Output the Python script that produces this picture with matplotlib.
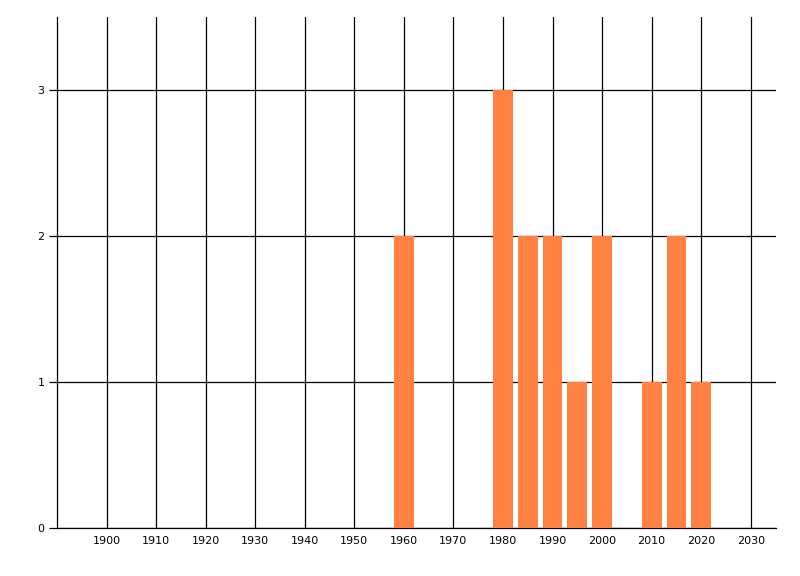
import matplotlib.pyplot as plt

years = [1960, 1980, 1985, 1990, 1995, 2000, 2010, 2015, 2020]
counts = [2, 3, 2, 2, 1, 2, 1, 2, 1]
xticks = list(range(1900, 2031, 10))
yticks = [0, 1, 2, 3]

fig = plt.figure(figsize=(8, 5.76), dpi=100)
ax = fig.add_axes([0.0713, 0.0833, 0.8981, 0.8872])

ax.bar(years, counts, width=4, color="#ff8040", zorder=3)

ax.set_xlim(1890, 2035)
ax.set_ylim(0, 3.5)
ax.set_xticks(xticks)
ax.set_yticks(yticks)
ax.grid(True, color="black", linewidth=0.9, zorder=1)

for side in ["top", "right"]:
    ax.spines[side].set_visible(False)
for side in ["left", "bottom"]:
    ax.spines[side].set_linewidth(0.9)

ax.tick_params(axis="x", length=0, pad=6, labelsize=8)
ax.tick_params(axis="y", length=6, width=0.9, pad=3, labelsize=8)

fig.savefig("out.png", dpi=100)
